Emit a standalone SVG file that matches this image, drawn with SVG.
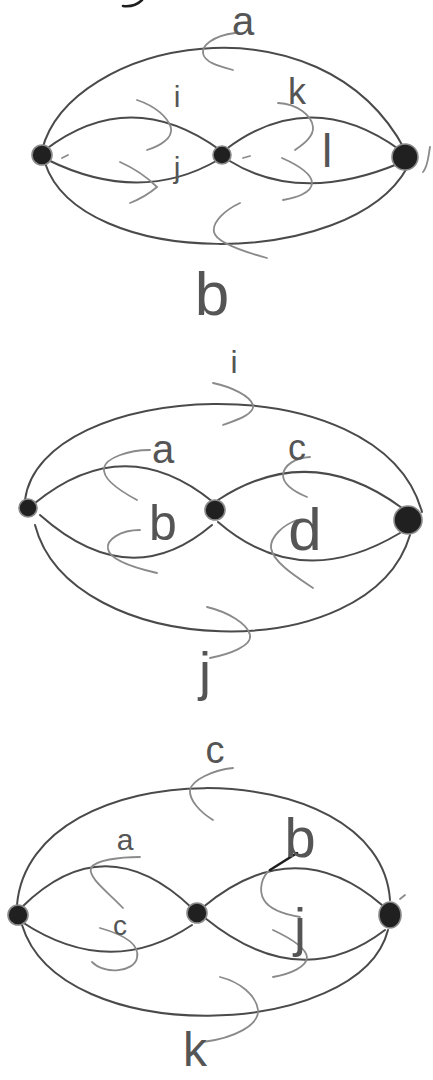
<svg xmlns="http://www.w3.org/2000/svg" width="433" height="1080" viewBox="0 0 433 1080">
<style>
.edge{fill:none;stroke:#4a4a4a;stroke-width:2;stroke-linecap:round}
.mark{fill:none;stroke:#8a8a8a;stroke-width:1.8;stroke-linecap:round}
.dark{fill:none;stroke:#1e1e1e;stroke-width:2.6;stroke-linecap:round}
.node{fill:#202020;stroke:#8a8a8a;stroke-width:1.6}
.lbl{font-family:"Liberation Sans",Arial,sans-serif;fill:#555555;text-anchor:middle}
</style>
<rect width="433" height="1080" fill="#ffffff"/>
<path class="dark" d="M142,0 C138,4 132,7 123,6"/>

<g id="connectors">
  <!-- diagram 1 -->
  <path class="edge" d="M42,150 C70,40 320,-10 405,150"/>
  <path class="edge" d="M45,163 C80,270 350,270 407,168"/>
  <path class="edge" d="M45,150 Q130,85 220,150"/>
  <path class="edge" d="M48,160 Q140,205 218,160"/>
  <path class="edge" d="M225,150 Q310,85 400,150"/>
  <path class="edge" d="M228,160 Q300,205 400,163"/>
  <!-- diagram 2 -->
  <path class="edge" d="M25,500 C40,380 380,360 422,512"/>
  <path class="edge" d="M35,525 C70,660 370,670 410,535"/>
  <path class="edge" d="M35,503 Q125,430 213,502"/>
  <path class="edge" d="M40,515 Q130,595 212,525"/>
  <path class="edge" d="M218,500 Q310,440 402,508"/>
  <path class="edge" d="M218,522 Q300,593 400,533"/>
  <!-- diagram 3 -->
  <path class="edge" d="M17,905 C30,750 380,750 390,900"/>
  <path class="edge" d="M22,925 C60,1050 360,1040 388,930"/>
  <path class="edge" d="M22,907 Q105,825 192,908"/>
  <path class="edge" d="M22,922 Q110,980 192,925"/>
  <path class="edge" d="M202,908 Q295,830 382,905"/>
  <path class="edge" d="M205,918 Q300,995 385,930"/>

  <!-- orientation marks diagram 1 -->
  <path class="mark" d="M235,33 C212,36 202,46 203,53 C204,62 218,66 233,70"/>
  <path class="mark" d="M137,100 C155,106 168,117 171,128 C173,138 160,146 147,150"/>
  <path class="mark" d="M120,162 C138,170 150,180 157,187 C150,193 140,199 130,203"/>
  <path class="mark" d="M278,103 C298,104 312,116 313,127 C314,137 302,145 295,150"/>
  <path class="mark" d="M282,158 C300,166 312,175 312,183 C312,193 295,198 283,200"/>
  <path class="mark" d="M240,203 C225,210 212,222 214,232 C216,243 245,252 267,258"/>
  <path class="mark" d="M62,158 L68,155"/>
  <path class="mark" d="M243,158 L250,156"/>
  <path class="mark" d="M430,147 C428,158 428,166 423,172"/>
  <!-- diagram 2 -->
  <path class="mark" d="M213,383 C232,387 250,396 253,405 C255,414 237,420 223,425"/>
  <path class="mark" d="M150,450 C128,450 106,458 104,468 C102,480 122,492 137,500"/>
  <path class="mark" d="M140,530 C120,530 106,540 108,549 C110,560 135,568 157,573"/>
  <path class="mark" d="M310,457 C295,458 284,465 283,475 C283,485 295,492 307,497"/>
  <path class="mark" d="M297,520 C283,525 270,537 271,548 C273,562 295,576 313,588"/>
  <path class="mark" d="M207,607 C228,612 248,624 250,635 C252,646 230,654 210,658"/>
  <!-- diagram 3 -->
  <path class="mark" d="M233,768 C213,770 192,780 190,790 C189,800 200,812 213,820"/>
  <path class="mark" d="M140,857 C120,857 95,860 91,868 C88,878 108,892 123,908"/>
  <path class="mark" d="M100,928 C125,935 140,945 137,958 C134,972 105,975 92,962"/>
  <path class="mark" d="M270,870 C262,876 258,890 264,900 C270,910 288,915 300,917"/>
  <path class="mark" d="M273,930 C290,938 306,948 307,957 C307,967 290,974 273,977"/>
  <path class="mark" d="M220,977 C240,982 256,995 258,1010 C259,1025 235,1038 203,1042"/>
  <path class="dark" d="M297,853 L270,870"/>
  <path class="mark" d="M400,899 L405,895"/>
</g>

<g id="labels">
  <text class="lbl" x="243" y="35" font-size="40">a</text>
  <text class="lbl" x="177" y="107" font-size="30">i</text>
  <text class="lbl" x="177" y="178" font-size="30">j</text>
  <text class="lbl" x="297" y="104" font-size="36">k</text>
  <text class="lbl" x="327" y="167" font-size="46">l</text>
  <text class="lbl" x="212" y="315" font-size="62">b</text>

  <text class="lbl" x="234" y="373" font-size="32">i</text>
  <text class="lbl" x="163" y="463" font-size="40">a</text>
  <text class="lbl" x="163" y="540" font-size="50">b</text>
  <text class="lbl" x="297" y="460" font-size="36">c</text>
  <text class="lbl" x="305" y="550" font-size="60">d</text>
  <text class="lbl" x="205" y="690" font-size="54">j</text>

  <text class="lbl" x="215" y="763" font-size="38">c</text>
  <text class="lbl" x="125" y="850" font-size="30">a</text>
  <text class="lbl" x="120" y="935" font-size="28">c</text>
  <text class="lbl" x="300" y="857" font-size="56">b</text>
  <text class="lbl" x="300" y="946" font-size="54">j</text>
  <text class="lbl" x="195" y="1066" font-size="48">k</text>
</g>

<g id="n1-left"><circle class="node" cx="42" cy="155" r="10"/></g>
<g id="n1-mid"><circle class="node" cx="222" cy="155" r="9"/></g>
<g id="n1-right"><circle class="node" cx="405" cy="157" r="13"/></g>
<g id="n2-left"><circle class="node" cx="28" cy="508" r="9"/></g>
<g id="n2-mid"><circle class="node" cx="215" cy="510" r="10"/></g>
<g id="n2-right"><circle class="node" cx="408" cy="520" r="14"/></g>
<g id="n3-left"><circle class="node" cx="18" cy="915" r="10"/></g>
<g id="n3-mid"><circle class="node" cx="197" cy="913" r="10"/></g>
<g id="n3-right"><ellipse class="node" cx="390" cy="915" rx="11" ry="13"/></g>
</svg>
